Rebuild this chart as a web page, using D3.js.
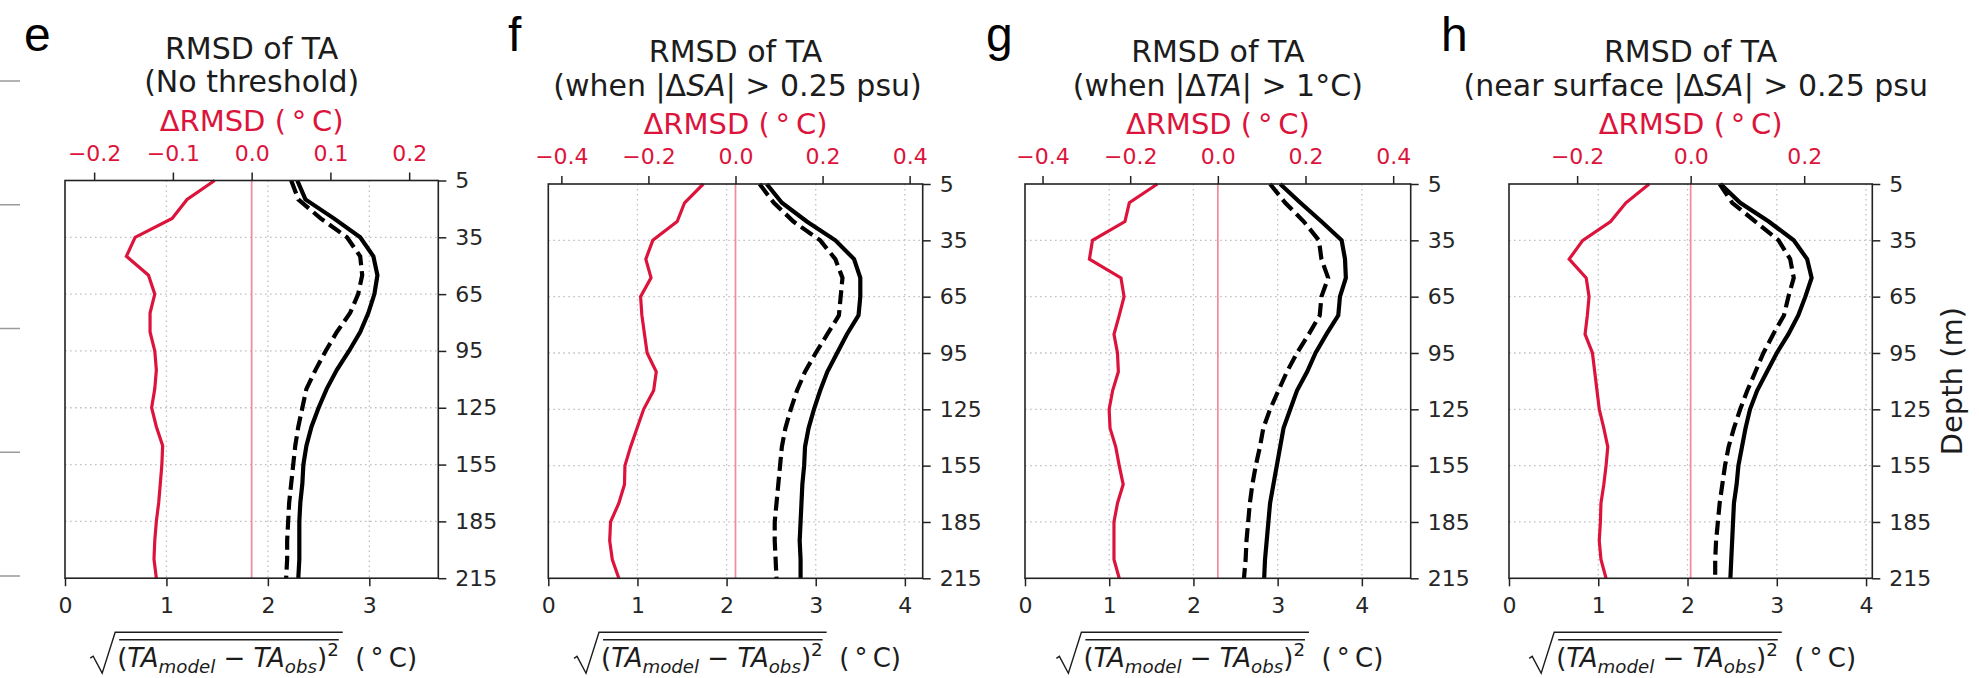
<!DOCTYPE html>
<html><head><meta charset="utf-8">
<script src="https://cdn.jsdelivr.net/npm/d3@7"></script>
<style>
html,body{margin:0;padding:0;background:#fff;}
svg{display:block;}
text{font-family:"DejaVu Sans",sans-serif;white-space:pre;}
</style></head><body>
<svg id="chart" width="1979" height="678"></svg>
<script>
// ---------------- DATA ----------------
const depths = [5,15,25,35,45,55,65,75,85,95,105,115,125,135,145,155,165,175,185,195,205,215];
const depthTicks = [5,35,65,95,125,155,185,215];

// panel e (No threshold)
const eSolid  = [2.29,2.37,2.65,2.91,3.04,3.08,3.05,2.99,2.91,2.80,2.68,2.58,2.50,2.43,2.38,2.35,2.34,2.32,2.31,2.31,2.31,2.30];
const eDashed = [2.23,2.30,2.52,2.78,2.91,2.93,2.89,2.81,2.68,2.57,2.47,2.38,2.34,2.30,2.27,2.25,2.23,2.21,2.20,2.19,2.19,2.18];
const eDelta  = [-0.047,-0.082,-0.101,-0.148,-0.159,-0.131,-0.123,-0.129,-0.129,-0.123,-0.121,-0.123,-0.127,-0.121,-0.113,-0.114,-0.116,-0.118,-0.121,-0.123,-0.124,-0.121];

// panel f (|dSA| > 0.25 psu)
const fSolid  = [2.45,2.62,2.90,3.22,3.43,3.50,3.50,3.48,3.35,3.24,3.13,3.05,2.98,2.92,2.88,2.87,2.85,2.84,2.83,2.82,2.83,2.83];
const fDashed = [2.37,2.53,2.75,3.05,3.22,3.30,3.28,3.26,3.13,3.00,2.88,2.79,2.72,2.66,2.62,2.60,2.58,2.56,2.54,2.54,2.55,2.56];
const fDelta  = [-0.074,-0.117,-0.134,-0.190,-0.206,-0.194,-0.218,-0.215,-0.209,-0.203,-0.182,-0.188,-0.211,-0.226,-0.241,-0.254,-0.255,-0.268,-0.287,-0.289,-0.283,-0.268];

// panel g (|dTA| > 1 C)
const gSolid  = [3.03,3.27,3.52,3.76,3.80,3.81,3.74,3.72,3.58,3.45,3.35,3.23,3.15,3.07,3.03,2.99,2.95,2.91,2.89,2.87,2.85,2.84];
const gDashed = [2.91,3.09,3.31,3.49,3.52,3.60,3.52,3.50,3.37,3.23,3.11,3.01,2.91,2.83,2.79,2.74,2.70,2.67,2.65,2.63,2.62,2.60];
const gDelta  = [-0.138,-0.202,-0.212,-0.286,-0.293,-0.221,-0.214,-0.225,-0.237,-0.229,-0.227,-0.240,-0.248,-0.246,-0.233,-0.225,-0.216,-0.229,-0.237,-0.237,-0.237,-0.225];

// panel h (near surface |dSA| > 0.25 psu)
const hSolid  = [2.37,2.59,2.91,3.19,3.34,3.39,3.32,3.24,3.13,3.00,2.89,2.78,2.70,2.65,2.61,2.57,2.55,2.52,2.51,2.50,2.49,2.48];
const hDashed = [2.36,2.50,2.76,3.02,3.15,3.19,3.13,3.08,2.96,2.85,2.76,2.67,2.59,2.52,2.46,2.42,2.39,2.36,2.34,2.32,2.31,2.31];
const hDelta  = [-0.073,-0.114,-0.141,-0.190,-0.214,-0.184,-0.179,-0.182,-0.186,-0.173,-0.169,-0.165,-0.161,-0.153,-0.146,-0.149,-0.153,-0.158,-0.159,-0.161,-0.158,-0.149];

const eTopTicks = [-0.2,-0.1,0.0,0.1,0.2];
const fTopTicks = [-0.4,-0.2,0.0,0.2,0.4];
const gTopTicks = [-0.4,-0.2,0.0,0.2,0.4];
const hTopTicks = [-0.2,0.0,0.2];
const eBottomTicks = [0,1,2,3];
const fBottomTicks = [0,1,2,3,4];
const gBottomTicks = [0,1,2,3,4];
const hBottomTicks = [0,1,2,3,4];

const panelLetters = ["e","f","g","h"];
const titleMain = "RMSD of TA";
const subtitles = [
  [{t:"(No threshold)"}],
  [{t:"(when |\u0394"},{t:"SA",i:1},{t:"| > 0.25 psu)"}],
  [{t:"(when |\u0394"},{t:"TA",i:1},{t:"| > 1\u00B0C)"}],
  [{t:"(near surface |\u0394"},{t:"SA",i:1},{t:"| > 0.25 psu)"}]
];
const topLabel = [{t:"\u0394RMSD (\u2009\u00B0\u2009C)"}];
const bottomLabel = [{t:"("},{t:"TA",i:1},{t:"model",i:1,s:0.22,k:0.7},{t:" \u2212 "},{t:"TA",i:1},{t:"obs",i:1,s:0.22,k:0.7},{t:")"},{t:"2",s:-0.42,k:0.7},{t:"  (\u2009\u00B0\u2009C)"}];
const depthLabel = "Depth (m)";
const stubTicks = [0,1,2,3,4];

// ---------------- LAYOUT ----------------
const panels = [
  {solid:eSolid, dashed:eDashed, delta:eDelta, topTicks:eTopTicks, botTicks:eBottomTicks, xMax:3.68, dMax:0.237, left:65,   right:438.3,  top:180.5, bottom:578.2, letterX:24,   subShift:0},
  {solid:fSolid, dashed:fDashed, delta:fDelta, topTicks:fTopTicks, botTicks:fBottomTicks, xMax:4.20, dMax:0.430, left:548.3, right:922.7,  top:184,   bottom:578.3, letterX:508,  subShift:2},
  {solid:gSolid, dashed:gDashed, delta:gDelta, topTicks:gTopTicks, botTicks:gBottomTicks, xMax:4.58, dMax:0.440, left:1025,  right:1410.7, top:184,   bottom:578.3, letterX:986,  subShift:0},
  {solid:hSolid, dashed:hDashed, delta:hDelta, topTicks:hTopTicks, botTicks:hBottomTicks, xMax:4.07, dMax:0.320, left:1509,  right:1872.3, top:184,   bottom:578.3, letterX:1441, subShift:11}
];
const RED = "#DC143C", ZERO = "#F08A9C", INK = "#222", TXT = "#1c1c1c", GRID = "#c0c0c0";

const svg = d3.select("#chart");
const defs = svg.append("defs");

function rich(sel, parts, size) {
  const t = sel.append("text").style("font-size", size + "px");
  let shift = 0;
  parts.forEach(p => {
    const sp = t.append("tspan").text(p.t);
    if (p.i) sp.style("font-style", "italic");
    if (p.k) sp.style("font-size", (size * p.k) + "px");
    const s = p.s || 0;
    if (s !== shift) sp.attr("dy", ((s - shift) * size) + "px");
    shift = s;
  });
  return t;
}

// leftover tick stubs at the far left edge
const stubScale = d3.scaleLinear().domain([0, 4]).range([81, 576]);
svg.append("g").selectAll("line").data(stubTicks).join("line")
  .attr("x1", 0).attr("x2", 20).attr("y1", d => stubScale(d)).attr("y2", d => stubScale(d))
  .attr("stroke", "#9a9a9a").attr("stroke-width", 1.5);

panels.forEach((P, idx) => {
  const g = svg.append("g");
  const x = d3.scaleLinear().domain([0, P.xMax]).range([P.left, P.right]);
  const xt = d3.scaleLinear().domain([-P.dMax, P.dMax]).range([P.left, P.right]);
  const y = d3.scaleLinear().domain([5, 215]).range([P.top, P.bottom]);
  const cx = (P.left + P.right) / 2;

  const clipId = "clip" + idx;
  defs.append("clipPath").attr("id", clipId).append("rect")
    .attr("x", P.left).attr("y", P.top - 2).attr("width", P.right - P.left).attr("height", P.bottom - P.top + 4);

  // grid
  g.append("g").selectAll("line").data(depthTicks.slice(1, -1)).join("line")
    .attr("x1", P.left).attr("x2", P.right).attr("y1", d => y(d)).attr("y2", d => y(d))
    .attr("stroke", GRID).attr("stroke-width", 1.3).attr("stroke-dasharray", "1.6,3.4");
  g.append("g").selectAll("line").data(P.botTicks.filter(d => d > 0)).join("line")
    .attr("x1", d => x(d)).attr("x2", d => x(d)).attr("y1", P.top).attr("y2", P.bottom)
    .attr("stroke", GRID).attr("stroke-width", 1.3).attr("stroke-dasharray", "1.6,3.4");

  // zero line of delta axis
  g.append("line").attr("x1", xt(0)).attr("x2", xt(0)).attr("y1", P.top).attr("y2", P.bottom)
    .attr("stroke", ZERO).attr("stroke-width", 1.7);

  const lines = g.append("g").attr("clip-path", `url(#${clipId})`);
  const lineX = d3.line().x(d => x(d[0])).y(d => y(d[1]));
  const lineT = d3.line().x(d => xt(d[0])).y(d => y(d[1]));
  lines.append("path").attr("d", lineT(P.delta.map((v, i) => [v, depths[i]])))
    .attr("fill", "none").attr("stroke", RED).attr("stroke-width", 3.2).attr("stroke-linejoin", "miter");
  lines.append("path").attr("d", lineX(P.dashed.map((v, i) => [v, depths[i]])))
    .attr("fill", "none").attr("stroke", "#000").attr("stroke-width", 4.2).attr("stroke-dasharray", "14,6");
  lines.append("path").attr("d", lineX(P.solid.map((v, i) => [v, depths[i]])))
    .attr("fill", "none").attr("stroke", "#000").attr("stroke-width", 4.2);

  // spines
  g.append("rect").attr("x", P.left).attr("y", P.top).attr("width", P.right - P.left).attr("height", P.bottom - P.top)
    .attr("fill", "none").attr("stroke", INK).attr("stroke-width", 1.6);

  // bottom axis
  const bax = g.append("g").attr("transform", `translate(0,${P.bottom})`)
    .call(d3.axisBottom(x).tickValues(P.botTicks).tickFormat(d3.format("d")).tickSize(8).tickPadding(11));
  // top axis (delta)
  const tax = g.append("g").attr("transform", `translate(0,${P.top})`)
    .call(d3.axisTop(xt).tickValues(P.topTicks).tickFormat(d => d3.format(".1f")(d).replace("-", "\u2212")).tickSize(8).tickPadding(12));
  // right axis (depth)
  const rax = g.append("g").attr("transform", `translate(${P.right},0)`)
    .call(d3.axisRight(y).tickValues(depthTicks).tickFormat(d3.format("d")).tickSize(8).tickPadding(9));
  [bax, tax, rax].forEach(a => {
    a.select(".domain").remove();
    a.selectAll(".tick line").attr("stroke", INK).attr("stroke-width", 1.5);
    a.selectAll(".tick text").style("font-size", "22px").style("font-family", "DejaVu Sans").attr("fill", "#262626");
  });
  tax.selectAll(".tick text").attr("fill", RED);

  // titles
  g.append("text").attr("x", cx).attr("y", P.top - 122).attr("text-anchor", "middle")
    .style("font-size", "30px").attr("fill", TXT).text(titleMain);
  const subG = g.append("g");
  if (idx === 3) {
    defs.append("clipPath").attr("id", "titleclip").append("rect").attr("x", 1300).attr("y", 0).attr("width", 628).attr("height", 130);
    subG.attr("clip-path", "url(#titleclip)");
  }
  rich(subG, subtitles[idx], 30).attr("x", cx + P.subShift).attr("y", P.top - 88.5).attr("text-anchor", "middle").attr("fill", TXT);
  rich(g, topLabel, 29).attr("x", cx).attr("y", P.top - 50).attr("text-anchor", "middle").attr("fill", RED);

  // panel letter
  g.append("text").attr("x", P.letterX).attr("y", 51).style("font-family", "'Liberation Sans', Arial, sans-serif")
    .style("font-size", "48px").attr("fill", "#000").text(panelLetters[idx]);

  // bottom label with radical
  const bl = g.append("g");
  const rw = 27, base = P.bottom + 89;
  const bt = rich(bl, bottomLabel, 26).attr("x", rw).attr("y", 0).attr("fill", TXT);
  const node = bt.node();
  let supIdx = 0;
  for (const p of bottomLabel) { supIdx += p.t.length; if (p.t === "2") break; }
  supIdx -= 1;
  const ext = node.getExtentOfChar(supIdx);
  const supEnd = ext.x + ext.width;
  const total = node.getBBox().x + node.getBBox().width;
  bl.append("path")
    .attr("d", `M0,-9 L3,-11 L12,6 L${rw - 2},-35 L${supEnd + 4},-35`)
    .attr("fill", "none").attr("stroke", TXT).attr("stroke-width", 1.4).attr("stroke-linejoin", "miter");
  bl.append("line").attr("x1", rw + 2).attr("x2", supEnd).attr("y1", -27.5).attr("y2", -27.5)
    .attr("stroke", TXT).attr("stroke-width", 1.4);
  bl.attr("transform", `translate(${cx - total / 2 + 2},${base})`);

  if (idx === 3) {
    g.append("text").attr("transform", `translate(${P.right + 90},${(P.top + P.bottom) / 2}) rotate(-90)`)
      .attr("text-anchor", "middle").style("font-size", "29px").attr("fill", TXT).text(depthLabel);
  }
});
</script>
</body></html>
